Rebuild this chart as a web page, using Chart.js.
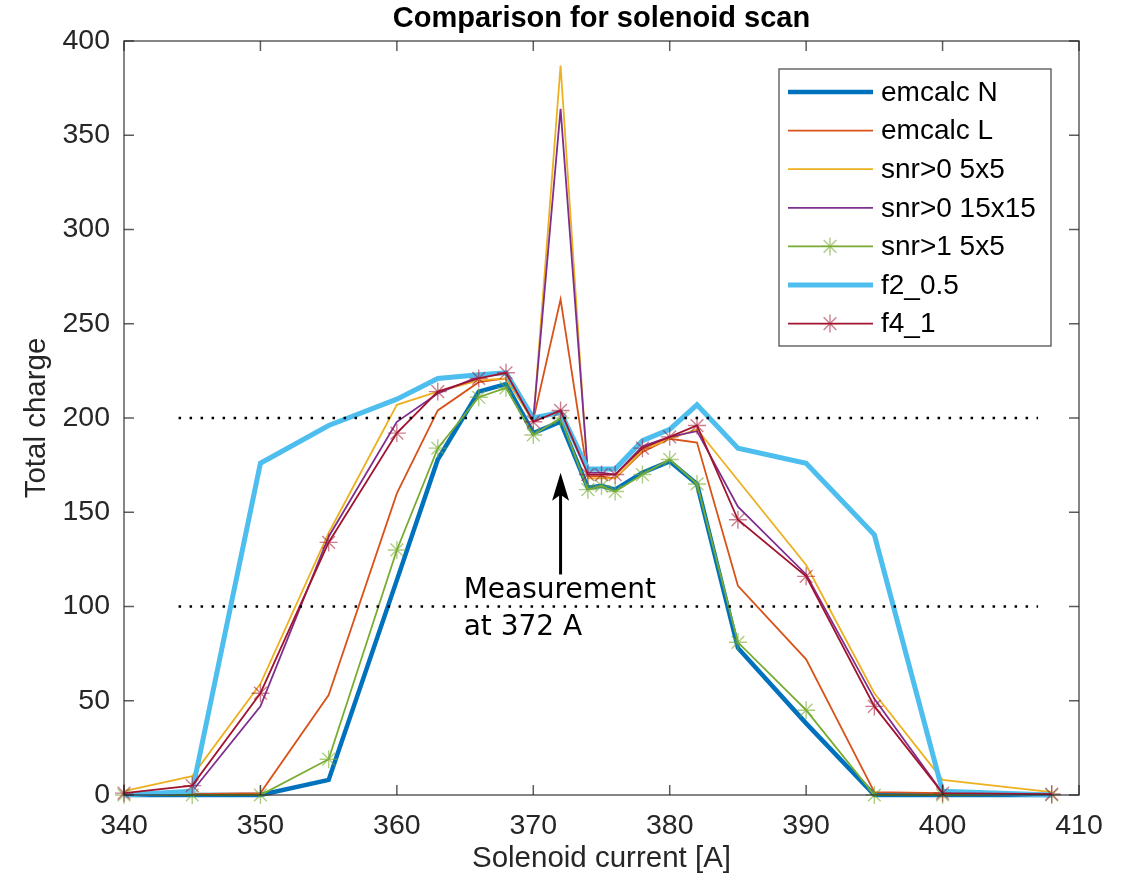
<!DOCTYPE html>
<html>
<head>
<meta charset="utf-8">
<script src="https://cdn.jsdelivr.net/npm/chart.js@4.4.0/dist/chart.umd.min.js"></script>
<style>
  html, body { margin: 0; padding: 0; background: #fff; }
  #wrap { width: 1127px; height: 882px; }
</style>
</head>
<body>
<div id="wrap"><canvas id="chart" width="1127" height="882"></canvas></div>
<script>
// Solenoid current [A]
const current = [340, 345, 350, 355, 360, 363, 366, 368, 370, 372, 374, 375, 376, 378, 380, 382, 385, 390, 395, 400, 408];

// Total charge per method
const emcalcN   = [0, 0, 0, 8, 114, 178, 214, 218, 192, 198, 163, 164, 162, 171, 177, 165, 78, 38, 0, 0, 0];
const emcalcL   = [0, 0.5, 1, 53, 160, 204, 219, 221, 199, 263, 169, 169, 168, 182, 189, 187, 111, 72, 1.5, 1, 0.5];
const snr0_5    = [2, 10, 59, 139, 207, 214, 220, 221, 198, 387, 168, 168, 168, 183, 189, 194, 167, 122, 54, 8, 1.5];
const snr0_15   = [0, 2, 47, 137, 198, 213, 222, 224, 199, 364, 171, 171, 170, 185, 190, 193, 153, 117, 51, 1, 0.5];
const snr1_5    = [0, 0, 0, 19, 130, 184, 211, 216, 191, 200, 162, 164, 161, 170, 178, 165, 81, 45, 0, 0, 0];
const f2_05     = [0, 2, 176, 196, 210, 221, 223, 224, 200, 203, 173, 173, 173, 188, 194, 207, 184, 176, 138, 2, 0];
const f4_1      = [1, 5, 54, 134, 192, 214, 221, 224, 198, 204, 170, 170, 170, 184, 190, 196, 146, 116, 47, 1, 0.5];

// dotted reference levels
const refLevels = [200, 100];
const refFrom = 344, refTo = 407;

// annotation
const arrowAt = 372, arrowFrom = 117, arrowTo = 171;
const noteX = 364.9;
const noteLines = ['Measurement', 'at 372 A'];
const noteY = [104.7, 85.1];

const xTicks = [340, 350, 360, 370, 380, 390, 400, 410];
const yTicks = [0, 50, 100, 150, 200, 250, 300, 350, 400];

const pts = arr => current.map((x, i) => ({ x, y: arr[i] }));

const series = [
  { label: 'emcalc N',     data: emcalcN, color: '#0072BD', width: 4.5 },
  { label: 'emcalc L',     data: emcalcL, color: '#D95319', width: 1.8 },
  { label: 'snr>0 5x5',    data: snr0_5,  color: '#EDB120', width: 1.8 },
  { label: 'snr>0 15x15',  data: snr0_15, color: '#7E2F8E', width: 1.8 },
  { label: 'snr>1 5x5',    data: snr1_5,  color: '#77AC30', width: 1.8, marker: 'rgba(119,172,48,0.6)' },
  { label: 'f2_0.5',       data: f2_05,   color: '#4DBEEE', width: 5 },
  { label: 'f4_1',         data: f4_1,    color: '#A2142F', width: 1.8, marker: 'rgba(162,20,47,0.55)' }
];

const datasets = series.map((s, i) => ({
  label: s.label,
  data: pts(s.data),
  borderColor: s.color,
  borderWidth: s.width,
  pointStyle: 'star',
  pointRadius: s.marker ? 9 : 0,
  pointBorderColor: s.marker || s.color,
  pointBorderWidth: 1.4,
  pointHoverRadius: 0,
  tension: 0,
  clip: false,
  order: series.length - i + 1
}));

refLevels.forEach(v => {
  datasets.push({
    label: 'ref ' + v,
    data: [{ x: refFrom, y: v }, { x: refTo, y: v }],
    borderColor: '#000',
    borderWidth: 2.5,
    borderDash: [2.5, 8.5],
    pointRadius: 0,
    clip: false,
    order: 0
  });
});

function drawStar(ctx, cx, cy, r) {
  ctx.beginPath();
  for (let k = 0; k < 4; k++) {
    const a = k * Math.PI / 4;
    ctx.moveTo(cx - Math.cos(a) * r, cy - Math.sin(a) * r);
    ctx.lineTo(cx + Math.cos(a) * r, cy + Math.sin(a) * r);
  }
  ctx.stroke();
}

const figureDecor = {
  id: 'figureDecor',
  afterDatasetsDraw(chart) {
    const { ctx, chartArea: a, scales: { x, y } } = chart;
    ctx.save();

    // arrow
    const ax = x.getPixelForValue(arrowAt);
    const ay0 = y.getPixelForValue(arrowFrom);
    const ay1 = y.getPixelForValue(arrowTo);
    ctx.strokeStyle = '#000';
    ctx.fillStyle = '#000';
    ctx.lineWidth = 3;
    ctx.beginPath();
    ctx.moveTo(ax, ay0);
    ctx.lineTo(ax, ay1 + 20);
    ctx.stroke();
    ctx.beginPath();
    ctx.moveTo(ax, ay1);
    ctx.lineTo(ax - 8.5, ay1 + 28);
    ctx.lineTo(ax, ay1 + 22);
    ctx.lineTo(ax + 8.5, ay1 + 28);
    ctx.closePath();
    ctx.fill();

    // annotation text
    ctx.font = '28px "DejaVu Sans"';
    ctx.textAlign = 'left';
    ctx.textBaseline = 'alphabetic';
    noteLines.forEach((t, i) => {
      ctx.fillText(t, x.getPixelForValue(noteX), y.getPixelForValue(noteY[i]));
    });

    // axes box with inward ticks
    ctx.strokeStyle = 'rgba(38,38,38,0.75)';
    ctx.lineWidth = 1.5;
    ctx.strokeRect(a.left, a.top, a.right - a.left, a.bottom - a.top);
    ctx.beginPath();
    xTicks.forEach(v => {
      const px = x.getPixelForValue(v);
      ctx.moveTo(px, a.bottom); ctx.lineTo(px, a.bottom - 10);
      ctx.moveTo(px, a.top); ctx.lineTo(px, a.top + 10);
    });
    yTicks.forEach(v => {
      const py = y.getPixelForValue(v);
      ctx.moveTo(a.left, py); ctx.lineTo(a.left + 10, py);
      ctx.moveTo(a.right, py); ctx.lineTo(a.right - 10, py);
    });
    ctx.stroke();

    // legend
    const bx = a.right - 300, by = a.top + 28, bw = 272, bh = 277;
    ctx.fillStyle = '#fff';
    ctx.fillRect(bx, by, bw, bh);
    ctx.strokeStyle = 'rgba(38,38,38,0.8)';
    ctx.lineWidth = 1.3;
    ctx.strokeRect(bx, by, bw, bh);
    ctx.font = '28px "Liberation Sans", Arial, sans-serif';
    ctx.textBaseline = 'middle';
    series.forEach((s, i) => {
      const ry = by + 23 + i * 38.6;
      ctx.strokeStyle = s.color;
      ctx.lineWidth = s.width;
      ctx.beginPath();
      ctx.moveTo(bx + 9, ry);
      ctx.lineTo(bx + 94, ry);
      ctx.stroke();
      if (s.marker) {
        ctx.strokeStyle = s.marker;
        ctx.lineWidth = 1.4;
        drawStar(ctx, bx + 51, ry, 9);
      }
      ctx.fillStyle = '#000';
      ctx.fillText(s.label, bx + 102, ry + 1);
    });

    // title
    ctx.font = 'bold 29px "Liberation Sans", Arial, sans-serif';
    ctx.textAlign = 'center';
    ctx.fillStyle = '#000';
    ctx.fillText('Comparison for solenoid scan', (a.left + a.right) / 2, 19);

    ctx.restore();
  }
};

new Chart(document.getElementById('chart'), {
  type: 'line',
  data: { datasets },
  options: {
    responsive: false,
    animation: false,
    layout: { padding: { top: 41, right: 48, left: 0, bottom: 0 } },
    plugins: {
      legend: { display: false },
      tooltip: { enabled: false },
      title: { display: false }
    },
    scales: {
      x: {
        type: 'linear',
        min: 340,
        max: 410,
        afterFit: s => { s.height = 87; },
        afterBuildTicks: s => { s.ticks = xTicks.map(v => ({ value: v })); },
        grid: { display: false, drawTicks: false },
        border: { display: false },
        ticks: {
          padding: 14,
          color: '#262626',
          font: { family: '"Liberation Sans", Arial, sans-serif', size: 28.5 }
        },
        title: {
          display: true,
          text: 'Solenoid current [A]',
          color: '#262626',
          padding: { bottom: 5 },
          font: { family: '"Liberation Sans", Arial, sans-serif', size: 29.5 }
        }
      },
      y: {
        min: 0,
        max: 400,
        afterFit: s => { s.width = 124; },
        afterBuildTicks: s => { s.ticks = yTicks.map(v => ({ value: v })); },
        grid: { display: false, drawTicks: false },
        border: { display: false },
        ticks: {
          padding: 14,
          color: '#262626',
          font: { family: '"Liberation Sans", Arial, sans-serif', size: 28.5 }
        },
        title: {
          display: true,
          text: 'Total charge',
          color: '#262626',
          padding: { top: 19 },
          font: { family: '"Liberation Sans", Arial, sans-serif', size: 29.5 }
        }
      }
    }
  },
  plugins: [figureDecor]
});
</script>
</body>
</html>
